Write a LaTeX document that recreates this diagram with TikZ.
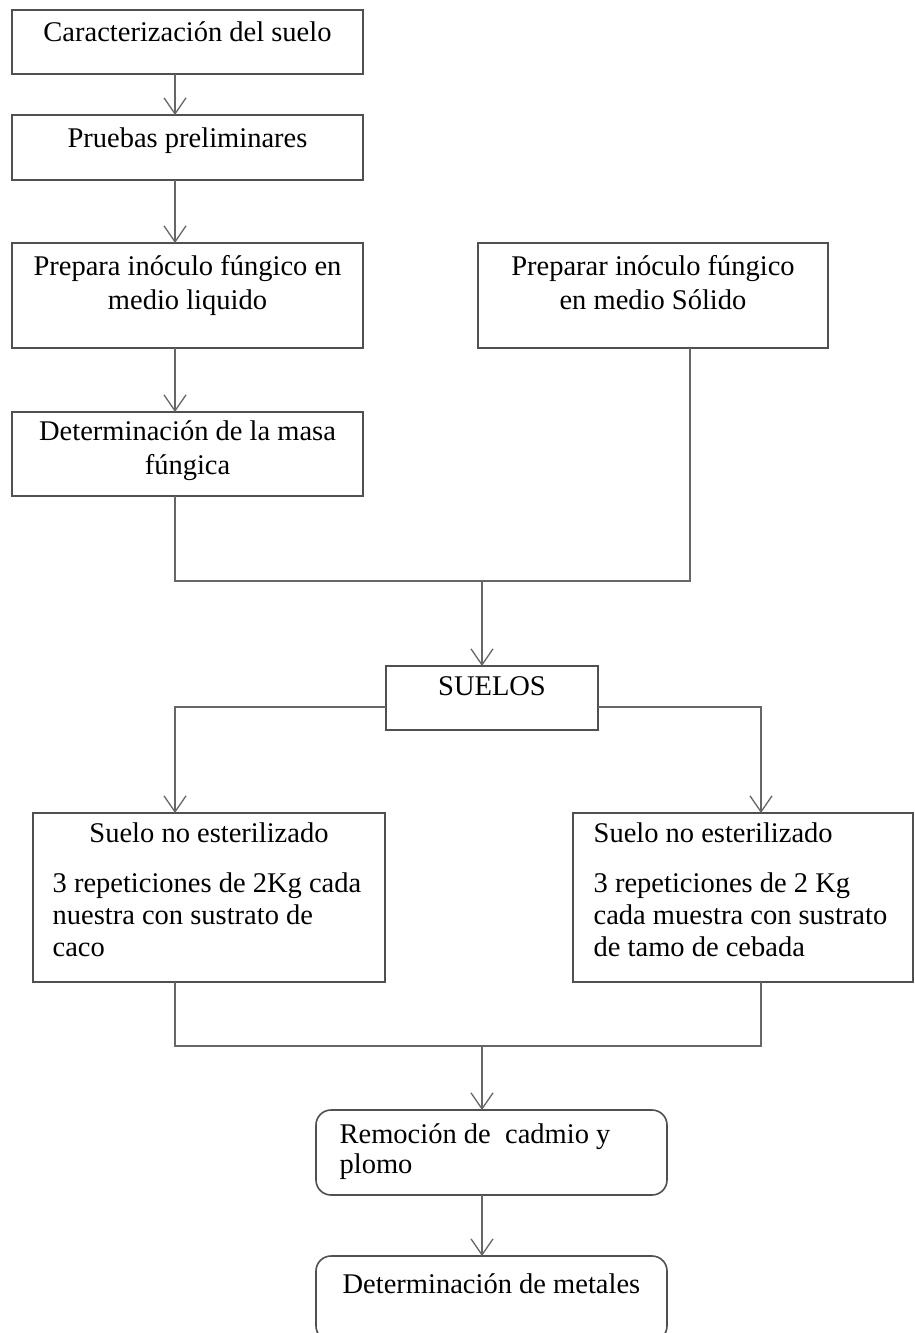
\documentclass[tikz,border=0pt]{standalone}
\usepackage{fontspec}
\setmainfont{Liberation Serif}
\usetikzlibrary{arrows.meta,positioning}

\definecolor{boxgray}{HTML}{505050}
\definecolor{linegray}{HTML}{666666}

\begin{document}
\begin{tikzpicture}[x=1pt,y=-1pt,line width=1.3pt,
	>={Straight Barb[length=16pt,width=22pt]},
	box/.style={draw=boxgray, line width=1.6pt, rectangle, inner sep=0pt, outer sep=0pt},
	round box/.style={box, rounded corners=15pt},
	txt/.style={inner sep=0pt, font=\fontsize{28.5}{34}\selectfont},
	conn/.style={draw=linegray},
	arr/.style={conn, ->}]
				\useasboundingbox (0,0) rectangle (914,1333);
				
				% columnas de los conectores
				\coordinate (colL) at (175,0);
				\coordinate (colM) at (482,0);
				\coordinate (colR) at (690,0);
				\coordinate (colS) at (761,0);
				
				\node[box, minimum width=351pt, minimum height=64pt] (caract) at (187.5,42) {};
				\node[box, minimum width=351pt, minimum height=65pt] (pruebas) [below=41pt of caract] {};
				\node[box, minimum width=351pt, minimum height=105pt] (liquido) [below=63pt of pruebas] {};
				\node[box, minimum width=350pt, minimum height=105pt] (solido) [right=115pt of liquido] {};
				\node[box, minimum width=351pt, minimum height=84pt] (masa) [below=64pt of liquido] {};
				
				\node[box, minimum width=212pt, minimum height=64pt] (suelos) at (492,698) {};
				\node[box, minimum width=352pt, minimum height=169pt] (noestA) at (209,897.5) {};
				\node[box, minimum width=340pt, minimum height=169pt] (noestB) [right=188pt of noestA] {};
				
				\node[round box, minimum width=351pt, minimum height=85pt] (remocion) at (491.5,1152.5) {};
				\node[round box, minimum width=351pt, minimum height=85pt] (metales) [below=61pt of remocion] {};
				
				% textos (base = ultima linea)
				\node[txt, anchor=base] (caractT) at ([yshift=-31pt]caract.north) {Caracterización del suelo};
				\node[txt, anchor=base] (pruebasT) at ([yshift=-32pt]pruebas.north) {Pruebas preliminares};
				\node[txt, anchor=base, align=center] (liquidoT) at ([yshift=-66pt]liquido.north) {Prepara inóculo fúngico en\\medio liquido};
				\node[txt, anchor=base, align=center] (solidoT) at ([yshift=-66pt]solido.north) {Preparar inóculo fúngico\\en medio Sólido};
				\node[txt, anchor=base, align=center] (masaT) at ([yshift=-62pt]masa.north) {Determinación de la masa\\fúngica};
				\node[txt, anchor=base] (suelosT) at ([yshift=-29pt]suelos.north) {SUELOS};
				
				\node[txt, anchor=base] (noestAT) at ([yshift=-29pt]noestA.north) {Suelo no esterilizado};
				\node[txt, anchor=base west, align=left, font=\fontsize{28.5}{32}\selectfont] (noestAB) at ([xshift=19pt,yshift=-143pt]noestA.north west) {3 repeticiones de 2Kg cada\\nuestra con sustrato de\\caco};
				\node[txt, anchor=base west] (noestBT) at ([xshift=20pt,yshift=-29pt]noestB.north west) {Suelo no esterilizado};
				\node[txt, anchor=base west, align=left, font=\fontsize{28.5}{32}\selectfont] (noestBB) at ([xshift=20pt,yshift=-143pt]noestB.north west) {3 repeticiones de 2 Kg\\cada muestra con sustrato\\de tamo de cebada};
				
				\node[txt, anchor=base west, align=left, font=\fontsize{28.5}{30}\selectfont] (remocionT) at ([xshift=23pt,yshift=-63pt]remocion.north west) {Remoción de~ cadmio y\\plomo};
				\node[txt, anchor=base west] (metalesT) at ([xshift=26pt,yshift=-37pt]metales.north west) {Determinación de metales};
				
				% conectores
				\coordinate (join1) at (482,581);
				\coordinate (join2) at (482,1046);
				\coordinate (sideY) at (0,707);
				
				\draw[arr] (caract.south -| colL) -- (pruebas.north -| colL);
				\draw[arr] (pruebas.south -| colL) -- (liquido.north -| colL);
				\draw[arr] (liquido.south -| colL) -- (masa.north -| colL);
				\draw[conn] (masa.south -| colL) |- (join1) -| (solido.south -| colR);
				\draw[arr] (join1) -- (suelos.north -| join1);
				
				\draw[arr] (suelos.west |- sideY) -| (noestA.north -| colL);
				\draw[arr] (suelos.east |- sideY) -| (noestB.north -| colS);
				
				\draw[conn] (noestA.south -| colL) |- (join2) -| (noestB.south -| colS);
				\draw[arr] (join2) -- (remocion.north -| join2);
				\draw[arr] (remocion.south -| colM) -- (metales.north -| colM);
				
\end{tikzpicture}
\end{document}
